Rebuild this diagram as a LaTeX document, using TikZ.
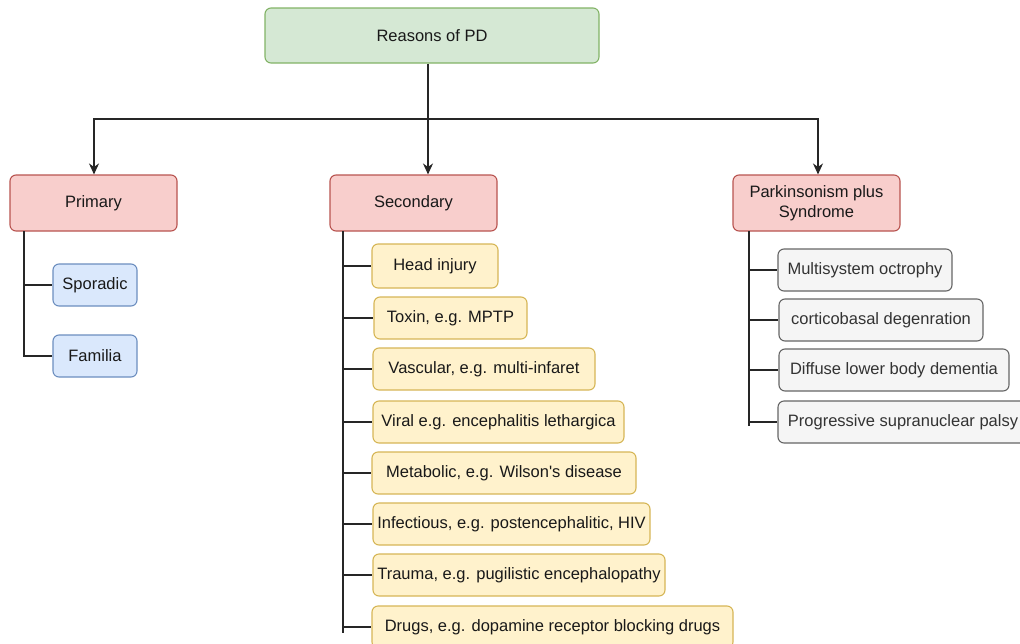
\documentclass[tikz,border=0pt]{standalone}
\usepackage{fontspec}
\setmainfont{Liberation Sans}[Ligatures=TeXOff]
\usetikzlibrary{arrows.meta}
\definecolor{grnF}{HTML}{D5E8D4}\definecolor{grnS}{HTML}{82B366}
\definecolor{redF}{HTML}{F8CECC}\definecolor{redS}{HTML}{B85450}
\definecolor{bluF}{HTML}{DAE8FC}\definecolor{bluS}{HTML}{6C8EBF}
\definecolor{ylwF}{HTML}{FFF2CC}\definecolor{ylwS}{HTML}{D6B656}
\definecolor{gryF}{HTML}{F5F5F5}\definecolor{gryS}{HTML}{666666}
\definecolor{gryT}{HTML}{333333}
\begin{document}
\begin{tikzpicture}[x=1pt,y=-1pt,
  box/.style={rounded corners=6pt, line width=1.1pt, inner sep=0pt, align=center,
    font=\fontsize{16.5}{20}\selectfont, text=black!90},
  rootbox/.style={box, fill=grnF, draw=grnS},
  catbox/.style={box, fill=redF, draw=redS, minimum width=167pt, minimum height=56pt},
  primbox/.style={box, fill=bluF, draw=bluS, minimum width=84pt, minimum height=42pt},
  secbox/.style={box, fill=ylwF, draw=ylwS, minimum height=42pt},
  plusbox/.style={box, fill=gryF, draw=gryS, text=gryT, minimum height=42pt},
  link/.style={line width=1.3pt, draw=black!85},
  arr/.style={link, -{Stealth[length=11pt,width=10pt,inset=3.5pt]}}]
\useasboundingbox (0,0) rectangle (1020,643);

% top level
\node[rootbox, minimum width=334pt, minimum height=55pt] (root) at (432,35.5) {Reasons of PD};
\node[catbox] (prim) at (93.5,203) {Primary};
\node[catbox] (sec) at (413.5,203) {Secondary};
\node[catbox] (park) at (816.5,203) {Parkinsonism plus\\Syndrome};

% primary causes
\node[primbox] (spor) at (95,285) {Sporadic};
\node[primbox] (fam) at (95,356) {Familia};

% secondary causes
\node[secbox, minimum width=126pt, minimum height=44pt] (head) at (435,266) {Head injury};
\node[secbox, minimum width=153pt] (tox) at (450.5,318) {Toxin, e.g. MPTP};
\node[secbox, minimum width=222pt] (vasc) at (484,369) {Vascular, e.g. multi-infaret};
\node[secbox, minimum width=251pt] (vir) at (498.5,422) {Viral e.g. encephalitis lethargica};
\node[secbox, minimum width=264pt] (meta) at (504,473) {Metabolic, e.g. Wilson's disease};
\node[secbox, minimum width=277pt] (inf) at (511.5,524) {Infectious, e.g. postencephalitic, HIV};
\node[secbox, minimum width=292pt] (trau) at (519,575) {Trauma, e.g. pugilistic encephalopathy};
\node[secbox, minimum width=361pt] (drug) at (552.5,627) {Drugs, e.g. dopamine receptor blocking drugs};

% parkinsonism plus syndromes
\node[plusbox, minimum width=174pt] (msa) at (865,270) {Multisystem octrophy};
\node[plusbox, minimum width=204pt] (cbd) at (881,320) {corticobasal degenration};
\node[plusbox, minimum width=230pt] (dlb) at (894,370) {Diffuse lower body dementia};
\node[plusbox, minimum width=250pt] (psp) at (903,422) {Progressive supranuclear palsy};

% root fan-out
\coordinate (hub) at (428,119);
\draw[link] (root.south -| hub) -- (hub);
\draw[arr] (hub) -- (hub |- sec.north);
\draw[arr] (hub) -| ([xshift=0.5pt]prim.north);
\draw[arr] (hub) -| ([xshift=1.5pt]park.north);

% primary trunk
\coordinate (tp) at (24,231);
\draw[link] (tp) -- (tp |- fam.west) -- (fam.west);
\draw[link] (tp |- spor.west) -- (spor.west);

% secondary trunk
\coordinate (ts) at (343,231);
\coordinate (tsEnd) at (343,633);
\draw[link] (ts) -- (tsEnd);
\foreach \n in {head,tox,vasc,vir,meta,inf,trau,drug}
  \draw[link] (ts |- \n.west) -- (\n.west);

% parkinsonism plus trunk
\coordinate (tk) at (749,231);
\coordinate (tkEnd) at (749,426);
\draw[link] (tk) -- (tkEnd);
\foreach \n in {msa,cbd,dlb,psp}
  \draw[link] (tk |- \n.west) -- (\n.west);
\end{tikzpicture}
\end{document}
